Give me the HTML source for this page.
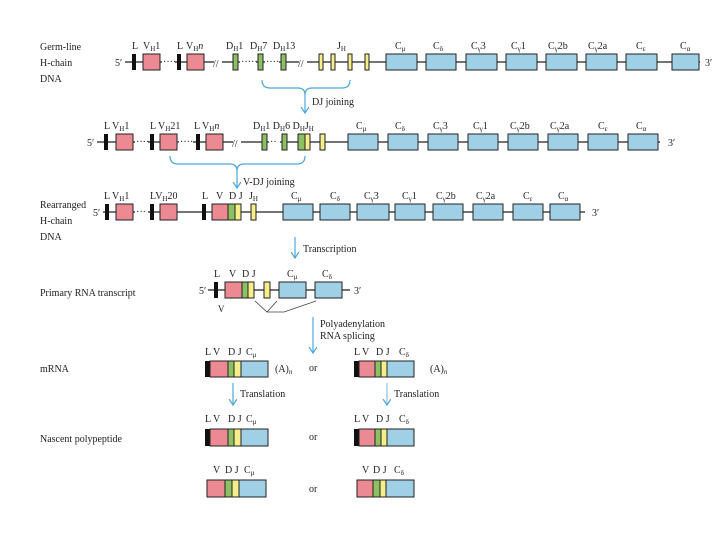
<!DOCTYPE html>
<html><head><meta charset="utf-8"><style>
html,body{margin:0;padding:0;background:#fff;}
svg{display:block;font-family:"Liberation Serif",serif;font-size:10px;fill:#222;}
.p{fill:#ec8a93;stroke:#222;stroke-width:1}
.g{fill:#8cc063;stroke:#222;stroke-width:1}
.y{fill:#f6ee8a;stroke:#222;stroke-width:1}
.b{fill:#9fd0e6;stroke:#222;stroke-width:1}
.k{fill:#111}
.ln{stroke:#222;stroke-width:1.2;fill:none}
.ar{stroke:#4da6dc;stroke-width:1.2;fill:none}
</style></head><body>
<svg width="720" height="540" viewBox="0 0 720 540">
<defs><marker id="m" markerWidth="8" markerHeight="10" refX="6" refY="4" orient="auto" markerUnits="userSpaceOnUse"><path d="M0,0 L6,4 L0,8" fill="none" stroke="#4da6dc" stroke-width="1.2"/></marker></defs>

<!-- Row 1 -->
<text x="40" y="50">Germ-line</text><text x="40" y="66">H-chain</text><text x="40" y="82">DNA</text>
<line class="ln" x1="125" y1="62" x2="700" y2="62"/>
<text x="115" y="66">5′</text><text x="705" y="66">3′</text>
<rect class="k" x="132" y="54" width="4" height="16"/><rect class="p" x="143" y="54" width="17" height="16"/>
<text x="132" y="49">L</text><text x="143" y="49">V<tspan font-size="7" dy="2">H</tspan><tspan dy="-2">1</tspan></text>
<rect x="162" y="58" width="13" height="8" fill="#fff"/><text x="163" y="65">····</text>
<rect class="k" x="177" y="54" width="4" height="16"/><rect class="p" x="187" y="54" width="17" height="16"/>
<text x="177" y="49">L</text><text x="186" y="49">V<tspan font-size="7" dy="2">H</tspan><tspan dy="-2" font-style="italic">n</tspan></text>
<rect x="214" y="56" width="8" height="12" fill="#fff"/><text x="213" y="67">//</text>
<rect class="g" x="233" y="54" width="5" height="16"/><rect class="g" x="258" y="54" width="5" height="16"/><rect class="g" x="281" y="54" width="5" height="16"/>
<text x="226" y="49">D<tspan font-size="7" dy="2">H</tspan><tspan dy="-2">1</tspan></text>
<text x="250" y="49">D<tspan font-size="7" dy="2">H</tspan><tspan dy="-2">7</tspan></text>
<text x="273" y="49">D<tspan font-size="7" dy="2">H</tspan><tspan dy="-2">13</tspan></text>
<rect x="240" y="58" width="16" height="8" fill="#fff"/><text x="241" y="65">·····</text>
<rect x="265" y="58" width="14" height="8" fill="#fff"/><text x="266" y="65">····</text>
<rect x="299" y="56" width="8" height="12" fill="#fff"/><text x="298" y="67">//</text>
<rect class="y" x="319" y="54" width="4" height="16"/><rect class="y" x="331" y="54" width="4" height="16"/><rect class="y" x="348" y="54" width="4" height="16"/><rect class="y" x="365" y="54" width="4" height="16"/>
<text x="337" y="49">J<tspan font-size="7" dy="2">H</tspan></text>
<rect class="b" x="386" y="54" width="31" height="16"/><rect class="b" x="426" y="54" width="30" height="16"/><rect class="b" x="466" y="54" width="31" height="16"/><rect class="b" x="506" y="54" width="31" height="16"/><rect class="b" x="546" y="54" width="31" height="16"/><rect class="b" x="586" y="54" width="31" height="16"/><rect class="b" x="626" y="54" width="31" height="16"/><rect class="b" x="672" y="54" width="27" height="16"/>
<text x="395" y="49">C<tspan font-size="7" dy="2">μ</tspan></text><text x="433" y="49">C<tspan font-size="7" dy="2">δ</tspan></text><text x="471" y="49">C<tspan font-size="7" dy="2">γ</tspan><tspan dy="-2">3</tspan></text><text x="511" y="49">C<tspan font-size="7" dy="2">γ</tspan><tspan dy="-2">1</tspan></text><text x="548" y="49">C<tspan font-size="7" dy="2">γ</tspan><tspan dy="-2">2b</tspan></text><text x="588" y="49">C<tspan font-size="7" dy="2">γ</tspan><tspan dy="-2">2a</tspan></text><text x="636" y="49">C<tspan font-size="7" dy="2">ε</tspan></text><text x="680" y="49">C<tspan font-size="7" dy="2">α</tspan></text>
<path class="ar" d="M262,80 Q262,88 270,88 L298,88 Q305,88 305,95 Q305,88 312,88 L342,88 Q350,88 350,80"/>
<line class="ar" x1="305" y1="95" x2="305" y2="113" marker-end="url(#m)"/>
<text x="312" y="105">DJ joining</text>

<!-- Row 2 -->
<line class="ln" x1="97" y1="142" x2="660" y2="142"/>
<text x="87" y="146">5′</text><text x="668" y="146">3′</text>
<rect class="k" x="104" y="134" width="4" height="16"/><rect class="p" x="116" y="134" width="17" height="16"/>
<text x="104" y="129">L V<tspan font-size="7" dy="2">H</tspan><tspan dy="-2">1</tspan></text>
<rect x="135" y="138" width="13" height="8" fill="#fff"/><text x="136" y="145">····</text>
<rect class="k" x="150" y="134" width="4" height="16"/><rect class="p" x="160" y="134" width="17" height="16"/>
<text x="150" y="129">L V<tspan font-size="7" dy="2">H</tspan><tspan dy="-2">21</tspan></text>
<rect x="179" y="138" width="14" height="8" fill="#fff"/><text x="180" y="145">····</text>
<rect class="k" x="196" y="134" width="4" height="16"/><rect class="p" x="206" y="134" width="17" height="16"/>
<text x="194" y="129">L V<tspan font-size="7" dy="2">H</tspan><tspan dy="-2" font-style="italic">n</tspan></text>
<rect x="233" y="136" width="8" height="12" fill="#fff"/><text x="232" y="147">//</text>
<rect class="g" x="262" y="134" width="5" height="16"/><rect class="g" x="282" y="134" width="5" height="16"/>
<rect x="269" y="138" width="11" height="8" fill="#fff"/><text x="270" y="145">··</text>
<rect class="g" x="298" y="134" width="7" height="16"/><rect class="y" x="305" y="134" width="5" height="16"/><rect class="y" x="320" y="134" width="5" height="16"/>
<text x="253" y="129">D<tspan font-size="7" dy="2">H</tspan><tspan dy="-2">1 D</tspan><tspan font-size="7" dy="2">H</tspan><tspan dy="-2">6 D</tspan><tspan font-size="7" dy="2">H</tspan><tspan dy="-2">J</tspan><tspan font-size="7" dy="2">H</tspan></text>
<rect class="b" x="348" y="134" width="30" height="16"/><rect class="b" x="388" y="134" width="30" height="16"/><rect class="b" x="428" y="134" width="30" height="16"/><rect class="b" x="468" y="134" width="30" height="16"/><rect class="b" x="508" y="134" width="30" height="16"/><rect class="b" x="548" y="134" width="30" height="16"/><rect class="b" x="588" y="134" width="30" height="16"/><rect class="b" x="628" y="134" width="30" height="16"/>
<text x="356" y="129">C<tspan font-size="7" dy="2">μ</tspan></text><text x="395" y="129">C<tspan font-size="7" dy="2">δ</tspan></text><text x="433" y="129">C<tspan font-size="7" dy="2">γ</tspan><tspan dy="-2">3</tspan></text><text x="473" y="129">C<tspan font-size="7" dy="2">γ</tspan><tspan dy="-2">1</tspan></text><text x="510" y="129">C<tspan font-size="7" dy="2">γ</tspan><tspan dy="-2">2b</tspan></text><text x="550" y="129">C<tspan font-size="7" dy="2">γ</tspan><tspan dy="-2">2a</tspan></text><text x="598" y="129">C<tspan font-size="7" dy="2">ε</tspan></text><text x="636" y="129">C<tspan font-size="7" dy="2">α</tspan></text>
<path class="ar" d="M170,156 Q170,164 178,164 L230,164 Q237,164 237,171 Q237,164 244,164 L297,164 Q305,164 305,156"/>
<line class="ar" x1="237" y1="171" x2="237" y2="188" marker-end="url(#m)"/>
<text x="243" y="185">V-DJ joining</text>

<!-- Row 3 -->
<text x="40" y="208">Rearranged</text><text x="40" y="224">H-chain</text><text x="40" y="240">DNA</text>
<line class="ln" x1="103" y1="212" x2="585" y2="212"/>
<text x="93" y="216">5′</text><text x="592" y="216">3′</text>
<rect class="k" x="105" y="204" width="4" height="16"/><rect class="p" x="116" y="204" width="17" height="16"/>
<text x="104" y="199">L V<tspan font-size="7" dy="2">H</tspan><tspan dy="-2">1</tspan></text>
<rect x="135" y="208" width="13" height="8" fill="#fff"/><text x="136" y="215">···</text>
<rect class="k" x="150" y="204" width="4" height="16"/><rect class="p" x="160" y="204" width="17" height="16"/>
<text x="150" y="199">LV<tspan font-size="7" dy="2">H</tspan><tspan dy="-2">20</tspan></text>
<rect class="k" x="202" y="204" width="4" height="16"/><rect class="p" x="212" y="204" width="16" height="16"/><rect class="g" x="228" y="204" width="7" height="16"/><rect class="y" x="235" y="204" width="6" height="16"/><rect class="y" x="251" y="204" width="5" height="16"/>
<text x="202" y="199">L</text><text x="216" y="199">V</text><text x="229" y="199">D J</text><text x="249" y="199">J<tspan font-size="7" dy="2">H</tspan></text>
<rect class="b" x="283" y="204" width="30" height="16"/><rect class="b" x="320" y="204" width="30" height="16"/><rect class="b" x="357" y="204" width="32" height="16"/><rect class="b" x="395" y="204" width="30" height="16"/><rect class="b" x="433" y="204" width="30" height="16"/><rect class="b" x="473" y="204" width="30" height="16"/><rect class="b" x="513" y="204" width="30" height="16"/><rect class="b" x="550" y="204" width="30" height="16"/>
<text x="291" y="199">C<tspan font-size="7" dy="2">μ</tspan></text><text x="330" y="199">C<tspan font-size="7" dy="2">δ</tspan></text><text x="364" y="199">C<tspan font-size="7" dy="2">γ</tspan><tspan dy="-2">3</tspan></text><text x="402" y="199">C<tspan font-size="7" dy="2">γ</tspan><tspan dy="-2">1</tspan></text><text x="436" y="199">C<tspan font-size="7" dy="2">γ</tspan><tspan dy="-2">2b</tspan></text><text x="476" y="199">C<tspan font-size="7" dy="2">γ</tspan><tspan dy="-2">2a</tspan></text><text x="523" y="199">C<tspan font-size="7" dy="2">ε</tspan></text><text x="558" y="199">C<tspan font-size="7" dy="2">α</tspan></text>
<line class="ar" x1="295" y1="237" x2="295" y2="258" marker-end="url(#m)"/>
<text x="303" y="252">Transcription</text>

<!-- Row 4 -->
<text x="40" y="296">Primary RNA transcript</text>
<line class="ln" x1="208" y1="290" x2="350" y2="290"/>
<text x="199" y="294">5′</text><text x="354" y="294">3′</text>
<rect class="k" x="214" y="282" width="4" height="16"/><rect class="p" x="225" y="282" width="17" height="16"/><rect class="g" x="242" y="282" width="6" height="16"/><rect class="y" x="248" y="282" width="6" height="16"/><rect class="y" x="264" y="282" width="6" height="16"/>
<rect class="b" x="279" y="282" width="27" height="16"/><rect class="b" x="315" y="282" width="27" height="16"/>
<text x="214" y="277">L</text><text x="229" y="277">V</text><text x="242" y="277">D J</text><text x="287" y="277">C<tspan font-size="7" dy="2">μ</tspan></text><text x="322" y="277">C<tspan font-size="7" dy="2">δ</tspan></text>
<text x="218" y="312" font-size="9">V</text>
<path d="M255,301 L267,312 L277,301 M267,312 L284,312 L316,301" stroke="#444" stroke-width="0.8" fill="none"/>
<line class="ar" x1="313" y1="317" x2="313" y2="353" marker-end="url(#m)"/>
<text x="320" y="327">Polyadenylation</text><text x="320" y="339">RNA splicing</text>

<!-- mRNA -->
<text x="40" y="372">mRNA</text>
<rect class="k" x="205" y="361" width="5" height="16"/><rect class="p" x="210" y="361" width="18" height="16"/><rect class="g" x="228" y="361" width="6" height="16"/><rect class="y" x="234" y="361" width="7" height="16"/><rect class="b" x="241" y="361" width="27" height="16"/>
<text x="205" y="355">L V</text><text x="228" y="355">D J</text><text x="246" y="355">C<tspan font-size="7" dy="2">μ</tspan></text>
<text x="275" y="372">(A)<tspan font-size="7" dy="2" font-style="italic">n</tspan></text>
<text x="309" y="371">or</text>
<rect class="k" x="354" y="361" width="5" height="16"/><rect class="p" x="359" y="361" width="16" height="16"/><rect class="g" x="375" y="361" width="6" height="16"/><rect class="y" x="381" y="361" width="6" height="16"/><rect class="b" x="387" y="361" width="27" height="16"/>
<text x="354" y="355">L V</text><text x="376" y="355">D J</text><text x="399" y="355">C<tspan font-size="7" dy="2">δ</tspan></text>
<text x="430" y="372">(A)<tspan font-size="7" dy="2" font-style="italic">n</tspan></text>
<line class="ar" x1="233" y1="383" x2="233" y2="405" marker-end="url(#m)"/>
<text x="240" y="397">Translation</text>
<line class="ar" x1="387" y1="383" x2="387" y2="405" marker-end="url(#m)" style="stroke:#8cc2e4"/>
<text x="394" y="397">Translation</text>

<!-- Nascent -->
<text x="40" y="442">Nascent polypeptide</text>
<rect class="k" x="205" y="429" width="5" height="17"/><rect class="p" x="210" y="429" width="18" height="17"/><rect class="g" x="228" y="429" width="6" height="17"/><rect class="y" x="234" y="429" width="7" height="17"/><rect class="b" x="241" y="429" width="27" height="17"/>
<text x="205" y="422">L V</text><text x="228" y="422">D J</text><text x="246" y="422">C<tspan font-size="7" dy="2">μ</tspan></text>
<text x="309" y="440">or</text>
<rect class="k" x="354" y="429" width="5" height="17"/><rect class="p" x="359" y="429" width="16" height="17"/><rect class="g" x="375" y="429" width="6" height="17"/><rect class="y" x="381" y="429" width="6" height="17"/><rect class="b" x="387" y="429" width="27" height="17"/>
<text x="354" y="422">L V</text><text x="376" y="422">D J</text><text x="399" y="422">C<tspan font-size="7" dy="2">δ</tspan></text>

<!-- Final -->
<rect class="p" x="207" y="480" width="18" height="17"/><rect class="g" x="225" y="480" width="7" height="17"/><rect class="y" x="232" y="480" width="7" height="17"/><rect class="b" x="239" y="480" width="27" height="17"/>
<text x="213" y="473">V</text><text x="225" y="473">D J</text><text x="244" y="473">C<tspan font-size="7" dy="2">μ</tspan></text>
<text x="309" y="492">or</text>
<rect class="p" x="357" y="480" width="16" height="17"/><rect class="g" x="373" y="480" width="7" height="17"/><rect class="y" x="380" y="480" width="6" height="17"/><rect class="b" x="386" y="480" width="28" height="17"/>
<text x="362" y="473">V</text><text x="373" y="473">D J</text><text x="394" y="473">C<tspan font-size="7" dy="2">δ</tspan></text>
</svg>
</body></html>
